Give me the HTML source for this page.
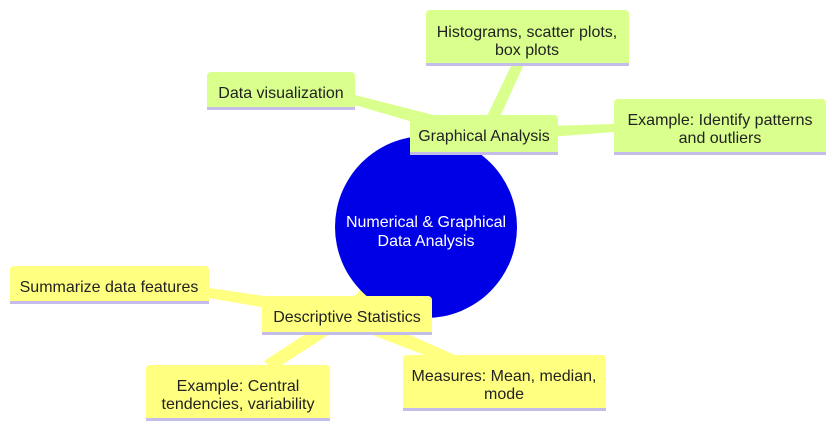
<!DOCTYPE html>
<html><head><meta charset="utf-8"><style>
html,body{margin:0;padding:0;background:#fff;}
svg{display:block;}
text{font-family:"Liberation Sans","DejaVu Sans",sans-serif;font-size:16px;fill:#222;}
</style></head><body>
<svg width="836" height="430" viewBox="0 0 836 430">
<g stroke-linecap="round">
<line x1="426" y1="227" x2="484" y2="135" stroke="#d9ff8c" stroke-width="14"/>
<polygon points="484,128 484,143 355,105 355,95" fill="#d9ff8c"/>
<polygon points="477,137 491,137 524,64 512,64" fill="#d9ff8c"/>
<polygon points="484,128 484,142 614,132 614,124" fill="#d9ff8c"/>
<line x1="426" y1="227" x2="347" y2="315" stroke="#ffff80" stroke-width="14"/>
<polygon points="347,308 347,322 209,298 209,288" fill="#ffff80"/>
<polygon points="341,311 353,319 274,370 264,361" fill="#ffff80"/>
<polygon points="339,322 349,308 457,356 450,365" fill="#ffff80"/>
</g>
<circle cx="426" cy="227" r="91" fill="#0000e6"/>
<text x="426" y="227" text-anchor="middle" style="fill:#fff">Numerical &amp; Graphical</text>
<text x="426" y="246" text-anchor="middle" style="fill:#fff">Data Analysis</text>

<g fill="#d9ff8c">
<path d="M426,66 V14 a4,4 0 0 1 4,-4 H625 a4,4 0 0 1 4,4 V66 Z"/>
<path d="M207,110 V76 a4,4 0 0 1 4,-4 H351 a4,4 0 0 1 4,4 V110 Z"/>
<path d="M410,155 V119 a4,4 0 0 1 4,-4 H554 a4,4 0 0 1 4,4 V155 Z"/>
<path d="M614,155 V103 a4,4 0 0 1 4,-4 H822 a4,4 0 0 1 4,4 V155 Z"/>
</g>
<g fill="#ffff80">
<path d="M10,304 V270 a4,4 0 0 1 4,-4 H205 a4,4 0 0 1 4,4 V304 Z"/>
<path d="M262,335 V300 a4,4 0 0 1 4,-4 H428 a4,4 0 0 1 4,4 V335 Z"/>
<path d="M146,421 V369 a4,4 0 0 1 4,-4 H326 a4,4 0 0 1 4,4 V421 Z"/>
<path d="M403,411 V359 a4,4 0 0 1 4,-4 H602 a4,4 0 0 1 4,4 V411 Z"/>
</g>
<g fill="#c4bcea">
<rect x="426" y="63" width="203" height="3"/>
<rect x="207" y="107" width="148" height="3"/>
<rect x="410" y="152" width="148" height="3"/>
<rect x="614" y="152" width="212" height="3"/>
<rect x="10" y="301" width="199" height="3"/>
<rect x="262" y="332" width="170" height="3"/>
<rect x="146" y="418" width="184" height="3"/>
<rect x="403" y="408" width="203" height="3"/>
</g>
<g text-anchor="middle">
<text x="527" y="37">Histograms, scatter plots,</text>
<text x="527" y="55">box plots</text>
<text x="281" y="98">Data visualization</text>
<text x="484" y="141">Graphical Analysis</text>
<text x="720" y="125">Example: Identify patterns</text>
<text x="720" y="143">and outliers</text>
<text x="109" y="292">Summarize data features</text>
<text x="347" y="322">Descriptive Statistics</text>
<text x="238" y="391">Example: Central</text>
<text x="238" y="409">tendencies, variability</text>
<text x="504" y="381">Measures: Mean, median,</text>
<text x="504" y="399">mode</text>
</g>
</svg>
</body></html>
